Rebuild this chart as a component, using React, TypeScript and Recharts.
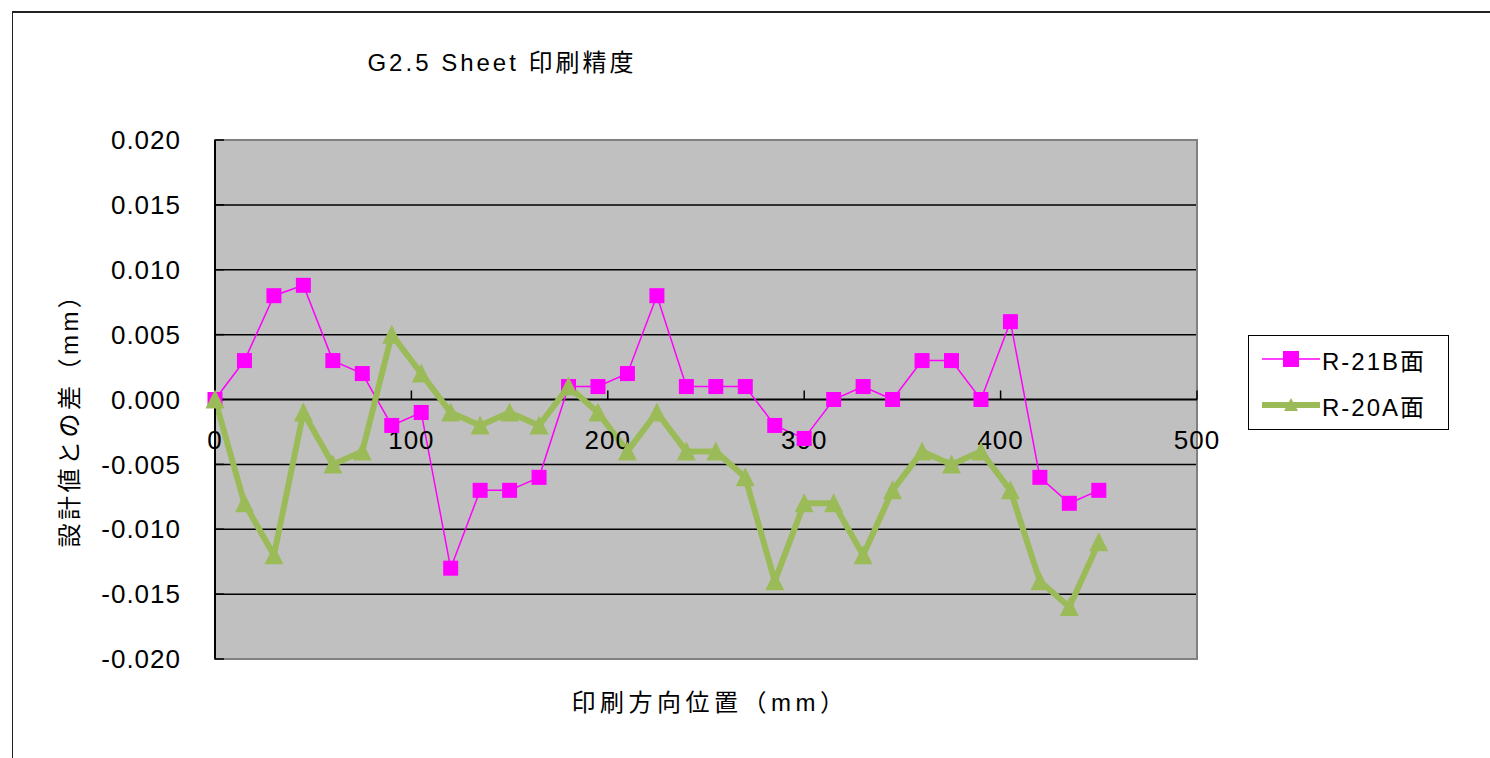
import React from "react";
import {
  LineChart,
  Line,
  XAxis,
  YAxis,
  CartesianGrid,
  ReferenceLine,
  ReferenceDot,
  ReferenceArea,
  Legend,
} from "recharts";

// print direction position (mm)
const positions = [
  0, 15, 30, 45, 60, 75, 90, 105, 120, 135, 150, 165, 180, 195, 210, 225, 240,
  255, 270, 285, 300, 315, 330, 345, 360, 375, 390, 405, 420, 435, 450,
];

// difference from design value (mm)
const r21bValues = [
  0, 0.003, 0.008, 0.0088, 0.003, 0.002, -0.002, -0.001, -0.013, -0.007, -0.007,
  -0.006, 0.001, 0.001, 0.002, 0.008, 0.001, 0.001, 0.001, -0.002, -0.003, 0,
  0.001, 0, 0.003, 0.003, 0, 0.006, -0.006, -0.008, -0.007,
];
const r20aValues = [
  0, -0.008, -0.012, -0.001, -0.005, -0.004, 0.005, 0.002, -0.001, -0.002,
  -0.001, -0.002, 0.001, -0.001, -0.004, -0.001, -0.004, -0.004, -0.006, -0.014,
  -0.008, -0.008, -0.012, -0.007, -0.004, -0.005, -0.004, -0.007, -0.014, -0.016,
  -0.011,
];

const seriesOrder = ["r21b", "r20a"];
const xTicks = [0, 100, 200, 300, 400, 500];
const yTicks = [-0.02, -0.015, -0.01, -0.005, 0, 0.005, 0.01, 0.015, 0.02];
const gridValues = [-0.015, -0.01, -0.005, 0.005, 0.01, 0.015];

const PINK = "#ff00ff";
const GREEN = "#9bbb59";
const FONT = '"Liberation Sans", "Noto Sans CJK JP", sans-serif';

const data = positions.map((x, i) => ({
  x,
  r21b: r21bValues[i],
  r20a: r20aValues[i],
}));

const SquareDot = (props: any) => {
  const { cx, cy } = props;
  if (cx == null || cy == null) return null;
  return <rect x={cx - 7.5} y={cy - 7.5} width={15} height={15} fill={PINK} />;
};

const TriangleDot = (props: any) => {
  const { cx, cy } = props;
  if (cx == null || cy == null) return null;
  return (
    <polygon
      points={`${cx},${cy - 10} ${cx + 9.5},${cy + 9} ${cx - 9.5},${cy + 9}`}
      fill={GREEN}
    />
  );
};

const LegendBox = ({ payload }: any) => {
  const items = [...(payload || [])].sort(
    (a: any, b: any) =>
      seriesOrder.indexOf(a.dataKey) - seriesOrder.indexOf(b.dataKey)
  );
  return (
    <div
      style={{
        border: "1.5px solid #000",
        background: "#fff",
        width: 201,
        height: 95,
        boxSizing: "border-box",
        fontFamily: FONT,
      }}
    >
      {items.map((entry: any) => {
        const pink = entry.dataKey === "r21b";
        return (
          <div
            key={entry.value}
            style={{ display: "flex", alignItems: "center", height: 46 }}
          >
            <svg width={58} height={20} style={{ marginLeft: 13 }}>
              <line
                x1={0}
                y1={10}
                x2={58}
                y2={10}
                stroke={entry.color}
                strokeWidth={pink ? 1.5 : 6}
              />
              {pink ? (
                <rect x={21} y={2} width={16} height={16} fill={PINK} />
              ) : (
                <polygon points="29,3 36,16 22,16" fill={GREEN} />
              )}
            </svg>
            <span
              style={{ fontSize: 24, letterSpacing: 2, marginLeft: 2, color: "#000" }}
            >
              {entry.value}
            </span>
          </div>
        );
      })}
    </div>
  );
};

export default function App() {
  return (
    <div
      style={{
        position: "absolute",
        left: 0,
        top: 0,
        width: 1490,
        height: 758,
        overflow: "hidden",
        background: "#fff",
        fontFamily: FONT,
      }}
    >
      <div
        style={{
          position: "absolute",
          left: 12,
          top: 11,
          width: 1478,
          height: 747,
          borderLeft: "1.5px solid #222",
          borderTop: "2px solid #222",
        }}
      />
      <div
        style={{
          position: "absolute",
          left: 502,
          top: 48,
          transform: "translateX(-50%)",
          fontSize: 24,
          lineHeight: "30px",
          letterSpacing: 3,
          whiteSpace: "nowrap",
          color: "#000",
        }}
      >
        G2.5 Sheet 印刷精度
      </div>
      <div
        style={{
          position: "absolute",
          left: 710,
          top: 688,
          transform: "translateX(-50%)",
          fontSize: 24,
          lineHeight: "30px",
          letterSpacing: 4.5,
          whiteSpace: "nowrap",
          color: "#000",
        }}
      >
        印刷方向位置（mm）
      </div>
      <div
        style={{
          position: "absolute",
          left: 70,
          top: 414,
          transform: "translate(-50%, -50%) rotate(-90deg)",
          fontSize: 24,
          lineHeight: "30px",
          letterSpacing: 3.5,
          whiteSpace: "nowrap",
          color: "#000",
        }}
      >
        設計値との差（mm）
      </div>
      <div style={{ position: "absolute", left: 0, top: 0 }}>
        <LineChart
          width={1490}
          height={758}
          data={data}
          margin={{ top: 140, right: 293, bottom: 99, left: 155 }}
        >
          <CartesianGrid
            vertical={false}
            horizontalValues={gridValues}
            fill="#c0c0c0"
            stroke="#000"
            strokeWidth={1.5}
          />
          <ReferenceArea
            x1={0}
            x2={500}
            y1={-0.02}
            y2={0.02}
            fill="none"
            fillOpacity={0}
            stroke="#808080"
            strokeWidth={2}
          />
          <XAxis
            type="number"
            dataKey="x"
            domain={[0, 500]}
            ticks={xTicks}
            hide
          />
          <YAxis
            type="number"
            domain={[-0.02, 0.02]}
            ticks={yTicks}
            interval={0}
            width={60}
            tickFormatter={(v: number) => v.toFixed(3)}
            axisLine={{ stroke: "#000", strokeWidth: 2 }}
            tickLine={{ stroke: "#000", strokeWidth: 1.5 }}
            tickSize={-9}
            tickMargin={43}
            tick={{ fill: "#000", fontSize: 26, fontFamily: FONT, letterSpacing: 1 }}
          />
          <ReferenceLine y={0} stroke="#000" strokeWidth={2} />
          {xTicks.map((t) => (
            <ReferenceDot
              key={t}
              x={t}
              y={0}
              r={0}
              ifOverflow="visible"
              shape={(p: any) => (
                <g>
                  <line
                    x1={p.cx}
                    y1={p.cy - 9}
                    x2={p.cx}
                    y2={p.cy}
                    stroke="#000"
                    strokeWidth={1.5}
                  />
                  <text
                    x={p.cx}
                    y={p.cy + 49}
                    textAnchor="middle"
                    fontSize={26}
                    fontFamily={FONT}
                    fill="#000"
                    style={{ letterSpacing: 1 }}
                  >
                    {t}
                  </text>
                </g>
              )}
            />
          ))}
          <Line
            dataKey="r21b"
            name="R-21B面"
            stroke={PINK}
            strokeWidth={1.5}
            dot={SquareDot}
            activeDot={false}
            isAnimationActive={false}
          />
          <Line
            dataKey="r20a"
            name="R-20A面"
            stroke={GREEN}
            strokeWidth={6}
            dot={TriangleDot}
            activeDot={false}
            isAnimationActive={false}
          />
          <Legend
            layout="vertical"
            align="center"
            verticalAlign="middle"
            wrapperStyle={{ left: 1248, top: 335, width: 201, height: 95 }}
            content={LegendBox}
          />
        </LineChart>
      </div>
    </div>
  );
}
